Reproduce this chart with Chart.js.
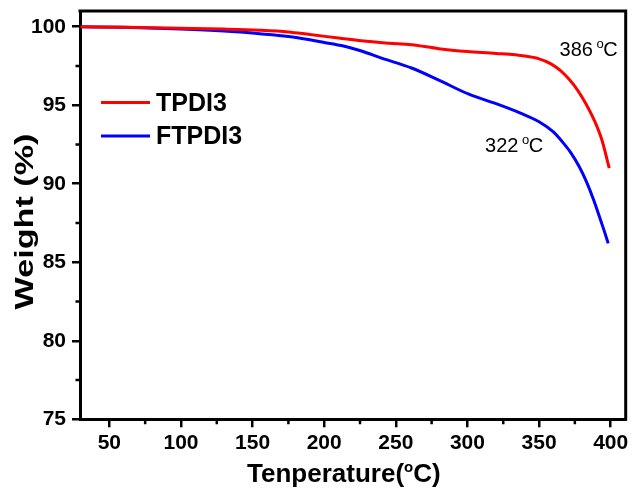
<!DOCTYPE html>
<html>
<head>
<meta charset="utf-8">
<script src="https://cdn.jsdelivr.net/npm/chart.js@4/dist/chart.umd.min.js"></script>
<style>
  html, body { margin: 0; padding: 0; background: #fff; }
  #wrap { width: 633px; height: 490px; position: relative; }
</style>
</head>
<body>
<div id="wrap"><canvas id="c" width="633" height="490"></canvas></div>
<script>
// ---- data ----
const seriesNames = ['TPDI3', 'FTPDI3'];
const seriesColors = ['#ff0000', '#0000ff'];

const tempTPDI3 = [30, 60, 100, 130, 155, 175, 190, 210, 226, 245, 261, 280, 300, 320, 340, 350, 358, 365, 371, 377, 383, 389, 394, 399];
const weightTPDI3 = [100, 99.96, 99.9, 99.85, 99.78, 99.67, 99.5, 99.28, 99.1, 98.95, 98.85, 98.6, 98.42, 98.3, 98.13, 97.95, 97.65, 97.2, 96.65, 95.95, 95.05, 93.95, 92.75, 91.0];

const tempFTPDI3 = [30, 60, 100, 130, 155, 175, 190, 200, 212, 226, 240, 261, 280, 301, 320, 337, 350, 360, 366, 372, 378, 383, 388, 392, 395.5, 398.3];
const weightFTPDI3 = [100, 99.96, 99.85, 99.72, 99.55, 99.38, 99.17, 99.0, 98.8, 98.45, 98.0, 97.37, 96.6, 95.7, 95.1, 94.5, 93.95, 93.3, 92.7, 92.0, 91.1, 90.15, 89.0, 87.95, 87.0, 86.2];

const xMajorTicks = [50, 100, 150, 200, 250, 300, 350, 400];
const xMinorTicks = [75, 125, 175, 225, 275, 325, 375];
const yMajorTicks = [75, 80, 85, 90, 95, 100];
const yMinorTicks = [77.5, 82.5, 87.5, 92.5, 97.5];

const annotationLabels = [
  { num: '386', unit: 'C', x: 364.3, y: 98.15 },
  { num: '322', unit: 'C', x: 312.3, y: 92.0 }
];

const xTitleMain = 'Tenperature(';
const xTitleSup = 'o';
const xTitleEnd = 'C)';
const yTitle = 'Weight (%)';

function toPoints(xs, ys) { return xs.map((x, i) => ({ x: x, y: ys[i] })); }

const FONT = '"Liberation Sans", Arial, Helvetica, sans-serif';

const extras = {
  id: 'extras',
  afterDraw(chart) {
    const ctx = chart.ctx;
    const a = chart.chartArea;
    const xs = chart.scales.x, ys = chart.scales.y;
    ctx.save();
    // frame top & right
    ctx.strokeStyle = '#000';
    ctx.lineWidth = 3;
    ctx.beginPath();
    ctx.moveTo(a.left - 1.5, a.top);
    ctx.lineTo(a.right, a.top);
    ctx.lineTo(a.right, a.bottom + 1.5);
    ctx.stroke();
    // minor ticks
    ctx.lineWidth = 2.5;
    ctx.beginPath();
    xMinorTicks.forEach(v => {
      const px = xs.getPixelForValue(v);
      ctx.moveTo(px, a.bottom);
      ctx.lineTo(px, a.bottom + 5);
    });
    yMinorTicks.forEach(v => {
      const py = ys.getPixelForValue(v);
      ctx.moveTo(a.left, py);
      ctx.lineTo(a.left - 4.5, py);
    });
    ctx.stroke();

    // legend
    const legY = [102.5, 136];
    chart.data.datasets.forEach((ds, i) => {
      ctx.strokeStyle = ds.borderColor;
      ctx.lineWidth = 3;
      ctx.beginPath();
      ctx.moveTo(101, legY[i]);
      ctx.lineTo(150, legY[i]);
      ctx.stroke();
      ctx.fillStyle = '#000';
      ctx.font = 'bold 25px ' + FONT;
      ctx.textBaseline = 'alphabetic';
      ctx.textAlign = 'left';
      ctx.fillText(ds.label, 156, legY[i] + 8);
    });

    // annotations
    annotationLabels.forEach(an => {
      const px = xs.getPixelForValue(an.x);
      const py = ys.getPixelForValue(an.y);
      ctx.fillStyle = '#000';
      ctx.textAlign = 'left';
      ctx.textBaseline = 'alphabetic';
      ctx.font = '20px ' + FONT;
      const t1 = an.num + ' ';
      ctx.fillText(t1, px, py);
      let w = ctx.measureText(t1).width - 2;
      ctx.font = '13px ' + FONT;
      ctx.fillText('o', px + w, py - 8);
      w += ctx.measureText('o').width - 0.5;
      ctx.font = '20px ' + FONT;
      ctx.fillText(an.unit, px + w, py);
    });

    // x title
    ctx.fillStyle = '#000';
    ctx.textBaseline = 'alphabetic';
    ctx.textAlign = 'left';
    const fMain = 'bold 26px ' + FONT, fSup = 'bold 15px ' + FONT;
    ctx.font = fMain;
    const w1 = ctx.measureText(xTitleMain).width;
    const w3 = ctx.measureText(xTitleEnd).width;
    ctx.font = fSup;
    const w2 = ctx.measureText(xTitleSup).width;
    const total = w1 + w2 + w3;
    const cx = (a.left + a.right) / 2 - 9;
    let x0 = cx - total / 2;
    const base = 482;
    ctx.font = fMain;
    ctx.fillText(xTitleMain, x0, base);
    ctx.font = fSup;
    ctx.fillText(xTitleSup, x0 + w1, base - 10);
    ctx.font = fMain;
    ctx.fillText(xTitleEnd, x0 + w1 + w2, base);

    // y title (rotated)
    ctx.save();
    ctx.font = 'bold 25px ' + FONT;
    const yw = ctx.measureText(yTitle).width;
    const targetLen = 176;
    ctx.translate(33, 221.5);
    ctx.rotate(-Math.PI / 2);
    ctx.scale(targetLen / yw, 1);
    ctx.textAlign = 'center';
    ctx.textBaseline = 'alphabetic';
    ctx.fillText(yTitle, 0, 0);
    ctx.restore();

    ctx.restore();
  }
};

new Chart(document.getElementById('c'), {
  type: 'line',
  data: {
    datasets: [
      {
        label: seriesNames[0],
        data: toPoints(tempTPDI3, weightTPDI3),
        borderColor: seriesColors[0],
        backgroundColor: seriesColors[0],
        borderWidth: 3,
        pointRadius: 0,
        cubicInterpolationMode: 'monotone',
        fill: false
      },
      {
        label: seriesNames[1],
        data: toPoints(tempFTPDI3, weightFTPDI3),
        borderColor: seriesColors[1],
        backgroundColor: seriesColors[1],
        borderWidth: 3,
        pointRadius: 0,
        cubicInterpolationMode: 'monotone',
        fill: false
      }
    ]
  },
  options: {
    responsive: false,
    animation: false,
    events: [],
    layout: { padding: { top: 11, right: 7.3, left: 0, bottom: 0 } },
    plugins: { legend: { display: false }, tooltip: { enabled: false }, title: { display: false } },
    scales: {
      x: {
        type: 'linear',
        min: 29.5,
        max: 410.5,
        afterBuildTicks: s => { s.ticks = xMajorTicks.map(v => ({ value: v })); },
        afterFit: s => { s.height = 70.7; s.paddingLeft = 0; s.paddingRight = 0; },
        border: { display: true, color: '#000', width: 3 },
        grid: { display: true, drawOnChartArea: false, drawTicks: true, tickLength: 8, color: '#000', lineWidth: 2.5 },
        ticks: { color: '#000', font: { family: FONT, size: 21, weight: 'bold' }, padding: 3, maxRotation: 0, autoSkip: false }
      },
      y: {
        type: 'linear',
        min: 75,
        max: 101,
        afterBuildTicks: s => { s.ticks = yMajorTicks.map(v => ({ value: v })); },
        afterFit: s => { s.width = 80; s.paddingTop = 0; s.paddingBottom = 0; },
        border: { display: true, color: '#000', width: 3 },
        grid: { display: true, drawOnChartArea: false, drawTicks: true, tickLength: 8, color: '#000', lineWidth: 2.5 },
        ticks: { color: '#000', font: { family: FONT, size: 21, weight: 'bold' }, padding: 6, autoSkip: false }
      }
    }
  },
  plugins: [extras]
});
</script>
</body>
</html>
